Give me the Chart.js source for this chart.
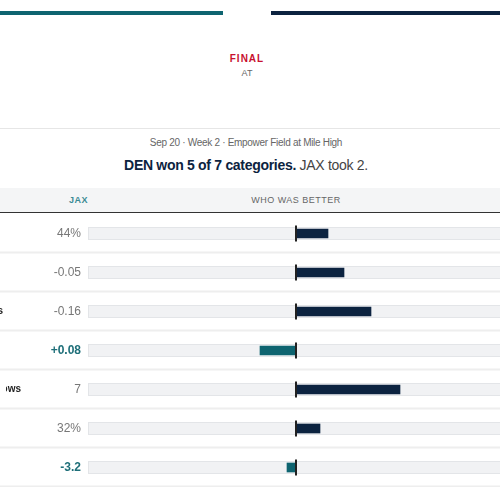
<!DOCTYPE html>
<html><head><meta charset="utf-8">
<script src="https://cdn.jsdelivr.net/npm/chart.js@4"></script>
<style>
body{margin:0;width:500px;height:500px;overflow:hidden;background:#fff;font-family:Arial,"Liberation Sans",sans-serif;position:relative}
.t{position:absolute;height:4px;top:11px}
.c{position:absolute;width:500px;text-align:center}
</style></head><body>
<div class="t" style="left:0;width:223px;background:#0e6470"></div>
<div class="t" style="left:271px;width:229px;background:#0c2340"></div>
<div class="c" style="top:53px;left:-3px;font-size:10px;font-weight:bold;color:#c8102e;letter-spacing:1px">FINAL</div>
<div class="c" style="top:68px;left:-3px;font-size:9px;color:#666">AT</div>
<div style="position:absolute;top:128px;left:0;width:500px;height:1px;background:#e6e6e6"></div>
<div class="c" style="top:137px;left:-4px;font-size:10px;color:#666;letter-spacing:-0.3px">Sep 20 · Week 2 · Empower Field at Mile High</div>
<div class="c" style="top:157px;left:-4px;font-size:14px;color:#0c2340;letter-spacing:-0.3px"><b>DEN won 5 of 7 categories.</b> <span style="color:#444">JAX took 2.</span></div>
<div style="position:absolute;top:188px;left:0;width:500px;height:24px;background:#f4f5f6;border-bottom:1px solid #333"></div>
<div style="position:absolute;top:195px;left:69px;font-size:9px;font-weight:bold;color:#3a8a94;letter-spacing:0.5px">JAX</div>
<div class="c" style="top:195px;left:46px;font-size:9px;color:#666;letter-spacing:0.5px">WHO WAS BETTER</div>
<div style="position:absolute;top:214px;left:0;width:500px;height:273px"><canvas id="ch"></canvas></div>
<script>
const categories=["Win probability","EPA per play","EPA per dropbacks","Success rate","Explosive throws","Third down rate","Field position"];
const jaxValues=["44%","-0.05","-0.16","+0.08","7","32%","-3.2"];
const jaxWon=[false,false,false,true,false,false,true];
const advantage=[32,48,75,-36,104,24,-9];
const labelEnd=[-8,-8,3,-8,21,-8,-8];
const plug={id:'rows',beforeDatasetsDraw(c){const x=c.ctx,ys=c.scales.y;
 x.save();
 categories.forEach((cat,i)=>{const y=ys.getPixelForValue(i);
  x.fillStyle='#f1f2f4';x.fillRect(88,y-6.5,420,13);x.strokeStyle='#e3e5e8';x.lineWidth=1;x.strokeRect(88.5,y-6,420,12);
  x.fillStyle='#eeeeee';x.fillRect(0,y+18,500,2);
  x.textAlign='right';x.textBaseline='middle';
  x.font=(jaxWon[i]?'bold ':'')+'12px Arial';x.fillStyle=jaxWon[i]?'#1e6f79':'#777';
  x.fillText(jaxValues[i],81,y);
  x.save();x.beginPath();x.rect(i==4?6:0,y-10,60,20);x.clip();
  x.font='bold 10px Arial';x.fillStyle='#222';x.fillText(cat,labelEnd[i],y);x.restore();
 });x.restore();},
 afterDatasetsDraw(c){const x=c.ctx,ys=c.scales.y,xs=c.scales.x,cx=xs.getPixelForValue(0);
 x.save();x.fillStyle='#222';categories.forEach((cat,i)=>{const y=ys.getPixelForValue(i);x.fillRect(cx-1,y-8,2,16);});x.restore();}};
new Chart(document.getElementById('ch'),{type:'bar',
 data:{labels:categories,datasets:[{data:advantage,backgroundColor:advantage.map(v=>v<0?'#0e6470':'#0c2340'),barThickness:9,borderSkipped:false}]},
 options:{indexAxis:'y',responsive:true,maintainAspectRatio:false,animation:false,
  layout:{padding:{left:88,right:0,top:0,bottom:0}},
  plugins:{legend:{display:false},tooltip:{enabled:false}},
  scales:{x:{min:-208,max:204,display:false},y:{display:false,offset:true}}},
 plugins:[plug]});
</script></body></html>
